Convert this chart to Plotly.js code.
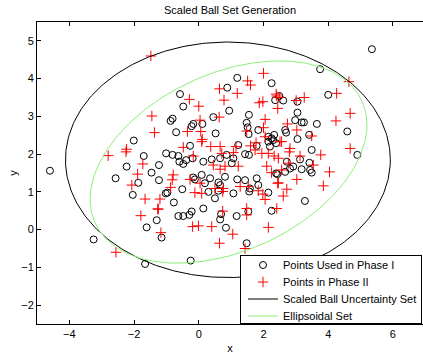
<!DOCTYPE html>
<html>
<head>
<meta charset="utf-8">
<script src="https://cdn.plot.ly/plotly-3.0.1.min.js"></script>
<style>html,body{margin:0;padding:0;background:#fff;}#chart{width:423px;height:356px;}</style>
</head>
<body>
<div id="chart"></div>
<script>
// Phase I points (circles)
var phase1X = [-2.01,
  1.19,2.25,0.88,-0.58,2.36,-0.48,0.94,-0.81,-0.87,0.45,1.55,1.48,-0.17,-0.22,0.11,-0.7,0.52,1.51,1.54,1.84,2.15,2.25,2.33,-0.27,1.22,1.79,2.2,
  5.35,3.75,2.49,2.61,4.0,3.05,3.05,2.98,3.18,3.25,3.65,2.67,2.7,4.59,3.41,2.3,3.05,3.49,
  -4.6,-1.7,-2.23,-1.46,-1.23,-2.57,-1.87,-1.23,-2.04,-1.02,-1.3,-1.61,-1.15,-3.25,-1.66,
  -1.01,-0.81,-0.63,-0.6,-0.39,-0.48,-0.19,0.14,0.4,0.66,0.86,1.07,1.02,1.43,1.55,2.15,2.39,0.09,-0.17,-0.12,0.35,0.19,0.61,0.66,0.81,1.19,1.43,1.79,1.84,2.39,-0.97,-0.77,-0.51,0.61,0.3,0.5,1.07,1.56,1.58,2.15,0.14,-0.63,-0.48,-0.29,-0.22,0.69,0.66,1.17,1.53,0.84,1.48,-0.25,
  4.9,2.72,3.13,3.18,3.42,3.44,3.49,2.92,2.82,2.67,2.43,3.28,2.25];
var phase1Y = [2.36,
  4.02,3.88,3.76,3.59,3.43,3.26,3.15,2.94,2.88,2.98,3.04,2.83,2.8,2.74,2.8,2.58,2.55,2.71,2.53,2.64,2.46,2.42,2.51,2.22,2.24,2.22,2.2,
  4.78,4.25,3.54,3.42,3.57,3.39,3.1,2.9,2.84,2.84,2.8,2.64,2.57,2.6,2.51,2.37,2.4,2.11,
  1.56,1.95,1.67,1.51,1.71,1.36,1.24,1.31,0.92,0.96,0.25,0.06,-0.21,-0.26,-0.91,
  2.02,1.98,1.95,1.8,1.84,1.74,1.89,1.8,1.86,1.89,1.98,1.89,1.76,2.0,1.98,2.33,2.29,1.45,1.38,1.33,1.36,1.23,1.25,1.18,1.4,1.33,1.31,1.36,1.18,1.49,0.98,0.72,1.07,1.03,1.0,0.83,0.96,1.01,1.09,0.98,0.56,0.36,0.36,0.39,0.48,0.41,0.27,0.36,0.48,0.05,-0.36,-0.82,
  1.98,1.8,1.86,1.6,1.77,1.58,1.51,1.67,1.62,1.53,1.47,0.76,0.5];

// Phase II points (plus signs)
var phase2X = [-1.48,-1.45,-1.37,-2.23,
  2.0,1.51,1.6,0.64,1.19,-0.29,0.78,1.87,1.98,2.41,0.0,2.44,0.63,2.05,0.04,-0.35,0.06,1.48,2.0,2.05,0.11,-0.48,0.66,1.15,1.6,
  4.64,2.39,2.49,4.26,3.01,3.26,4.68,4.24,2.74,3.03,3.49,2.51,4.68,2.82,
  -2.8,-2.25,-1.73,-1.89,-2.07,-1.66,-1.2,-1.27,-1.79,-1.17,-2.56,
  0.09,0.37,0.71,1.07,1.77,1.74,1.95,2.15,2.46,-0.17,0.45,0.66,0.81,1.22,2.1,-0.79,-0.82,-0.27,0.04,0.5,0.76,0.74,1.28,1.53,1.84,2.44,-0.87,-0.12,0.09,1.98,2.05,-1.25,0.74,1.48,1.48,-0.19,-0.01,0.4,1.05,2.15,0.64,1.43,
  2.56,3.77,2.33,2.8,2.77,3.13,3.54,4.04,2.56,2.25,3.03,2.46,3.85,2.72,2.61,2.41];
var phase2Y = [4.6,3.01,2.57,2.13,
  4.14,3.94,3.83,3.73,3.61,3.45,3.43,3.36,3.39,3.54,3.27,3.21,2.98,2.92,2.9,2.6,2.6,2.61,2.7,2.46,2.39,2.18,2.2,2.2,2.22,
  3.92,3.59,3.5,3.61,3.42,3.5,3.08,2.88,2.8,2.64,2.48,2.33,2.15,2.15,
  1.96,2.06,1.74,1.47,1.18,0.81,0.81,0.55,0.37,-0.08,-0.6,
  2.33,2.2,2.02,2.04,2.3,2.11,2.02,2.02,1.89,1.95,1.71,1.6,1.68,1.68,1.68,1.45,1.32,1.33,1.23,1.09,1.09,1.01,1.14,1.14,1.03,1.23,1.12,0.98,0.96,0.94,0.8,0.54,0.49,0.56,0.39,0.08,0.1,0.08,-0.12,0.06,-0.36,-0.5,
  2.33,1.98,1.95,2.06,1.76,1.95,1.71,1.53,1.58,1.51,1.33,1.24,1.16,1.07,0.89,0.56];

// Ellipse parameters: center [cx, cy], shape matrix [P, R, Q] ( [[P,R],[R,Q]] )
var ballCenter = [0.9, 1.85];
var ballShape = [25.2, 0.0, 9.73];
var ellCenter = [0.92, 1.79];
var ellShape = [18.3, 4.23, 7.18];

var legendNames = ['Points Used in Phase I', 'Points in Phase II', 'Scaled Ball Uncertainty Set', 'Ellipsoidal Set'];

function ellipse(c, s) {
  var P = s[0], R = s[1], Q = s[2];
  var a = Math.sqrt(P), b = R / a, d = Math.sqrt(Q - b * b);
  var xs = [], ys = [];
  for (var i = 0; i <= 360; i++) {
    var t = i * Math.PI / 180;
    xs.push(c[0] + a * Math.cos(t));
    ys.push(c[1] + b * Math.cos(t) + d * Math.sin(t));
  }
  return {x: xs, y: ys};
}
var ball = ellipse(ballCenter, ballShape);
var ell = ellipse(ellCenter, ellShape);

var traces = [
  {x: phase1X, y: phase1Y, mode: 'markers', type: 'scatter', name: legendNames[0],
   marker: {symbol: 'circle-open', size: 7, color: '#000', line: {width: 1, color: '#000'}}},
  {x: phase2X, y: phase2Y, mode: 'markers', type: 'scatter', name: legendNames[1],
   marker: {symbol: 'cross-thin-open', size: 7.5, color: '#ff0000', line: {width: 1, color: '#ff0000'}}},
  {x: ball.x, y: ball.y, mode: 'lines', type: 'scatter', name: legendNames[2],
   line: {color: '#000', width: 1}},
  {x: ell.x, y: ell.y, mode: 'lines', type: 'scatter', name: legendNames[3],
   line: {color: 'rgb(140,240,120)', width: 1}}
];

var fontFam = 'Liberation Sans, Arial, sans-serif';
var layout = {
  width: 423, height: 356,
  margin: {l: 37, r: 0, t: 22, b: 32, pad: 0},
  paper_bgcolor: '#fff', plot_bgcolor: '#fff',
  font: {family: fontFam, size: 11, color: '#000'},
  title: {text: 'Scaled Ball Set Generation', font: {family: fontFam, size: 11, color: '#000'},
          xref: 'paper', x: 0.5, xanchor: 'center', yref: 'container', y: 0.972, yanchor: 'middle'},
  xaxis: {range: [-5, 6.93], tickvals: [-4, -2, 0, 2, 4, 6], ticks: 'inside', ticklen: 4, tickcolor: '#000',
          showline: true, linecolor: '#000', linewidth: 1, mirror: 'ticks', showgrid: false, zeroline: false,
          title: {text: 'x', font: {size: 11}, standoff: 5}, automargin: false},
  yaxis: {range: [-2.5, 5.5], tickvals: [-2, -1, 0, 1, 2, 3, 4, 5], ticks: 'inside', ticklen: 4, tickcolor: '#000',
          showline: true, linecolor: '#000', linewidth: 1, mirror: false, showgrid: false, zeroline: false,
          title: {text: 'y', font: {size: 11}, standoff: 1}, automargin: false},
  legend: {x: 1, xanchor: 'right', y: 0, yanchor: 'bottom', bgcolor: '#fff', bordercolor: '#000', borderwidth: 1,
           font: {family: fontFam, size: 11, color: '#000'}, tracegroupgap: 0, itemwidth: 30},
  showlegend: true
};

Plotly.newPlot('chart', traces, layout, {displayModeBar: false, staticPlot: true}).then(function (gd) {
  // compact the legend rows to match the reference spacing
  try {
    var leg = gd.querySelector('g.legend');
    if (!leg) return;
    var bg = leg.querySelector('rect.bg');
    var items = leg.querySelectorAll('g.traces');
    var rowGap = 17, firstRow = 10, boxH = 68, boxW = 181;
    var left = 240, bottom = 324;
    for (var i = 0; i < items.length; i++) {
      items[i].setAttribute('transform', 'translate(3,' + (firstRow + rowGap * i) + ')');
    }
    if (bg) {
      bg.setAttribute('height', boxH);
      bg.setAttribute('width', boxW);
      bg.setAttribute('x', 0.5);
      bg.setAttribute('y', 0.5);
    }
    leg.setAttribute('transform', 'translate(' + left + ',' + (bottom - boxH - 1) + ')');
  } catch (e) {}
});
</script>
</body>
</html>
